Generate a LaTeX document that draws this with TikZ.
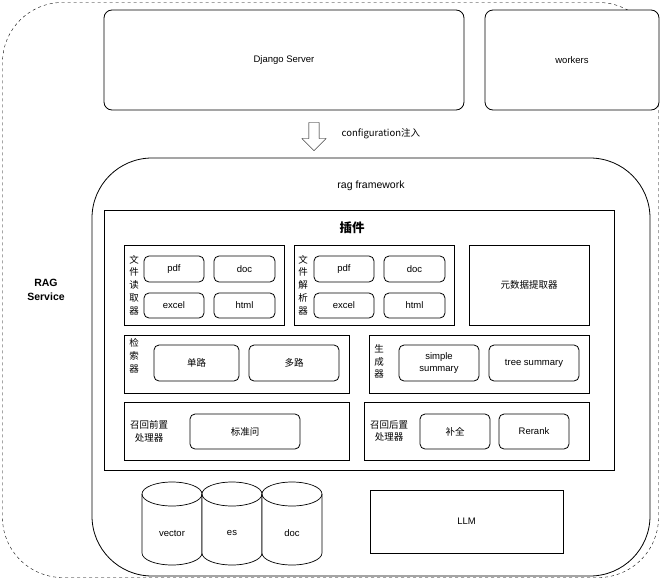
\documentclass[tikz,border=0pt]{standalone}
\usepackage{fontspec}
\setmainfont{Liberation Sans}
\newfontfamily\cjk{Noto Sans CJK SC}
\usetikzlibrary{shapes.arrows}
\tikzset{
  box/.style={draw, thick, fill=white, inner sep=0pt, align=center},
  item/.style={box, rounded corners=5pt},
  lbl/.style={inner sep=0pt, align=center, font=\cjk\fontsize{9.5}{12.8}\selectfont},
  zh/.style={font=\cjk\fontsize{9.5}{11}\selectfont},
}
\begin{document}
\begin{tikzpicture}[x=1pt, y=-1pt, font=\fontsize{9.5}{11.5}\selectfont, line width=0.7pt]
  \useasboundingbox (0,0) rectangle (661,581);

  % Outer service frame
  \node[draw, dashed, thin, rounded corners=60pt, minimum width=656pt, minimum height=575pt] (rag service) at (330.5,290) {};
  \node[font=\bfseries\fontsize{10.5}{13.5}\selectfont, align=center] (rag title) at (46,290) {RAG\\Service};

  % Top row
  \node[box, rounded corners=8pt, minimum width=360pt, minimum height=100pt] (django) at (284,60) {Django Server};
  \node[box, rounded corners=8pt, minimum width=174pt, minimum height=100pt] (workers) at (572,60) {workers};

  % Injection arrow
  \node[single arrow, draw, thin, fill=white, rotate=-90, minimum height=28pt, minimum width=24pt, single arrow head extend=3pt, inner sep=2pt] (inject) at (314,134) {};
  \node[zh, anchor=west] (inject label) at (338,134) {configuration注入};

  % Framework
  \node[box, rounded corners=60pt, minimum width=558pt, minimum height=418pt] (framework) at (371,367) {};
  \node[font=\fontsize{10.5}{12}\selectfont] (framework title) at (371,186) {rag framework};

  % Plugins
  \node[box, minimum width=510pt, minimum height=260pt] (plugins) at (359,340) {};
  \node[font=\cjk\bfseries\fontsize{12.5}{14}\selectfont] (plugins title) at (352,228) {插件};

  % File reader
  \node[box, minimum width=160pt, minimum height=80pt] (reader) at (204,285) {};
  \node[lbl] (reader label) at (134,285) {文\\件\\读\\取\\器};
  \node[item, minimum width=60pt, minimum height=26pt] (reader pdf) at (174,269) {pdf};
  \node[item, minimum width=61pt, minimum height=26pt] (reader doc) at (244.5,269) {doc};
  \node[item, minimum width=60pt, minimum height=25pt] (reader excel) at (174,305.5) {excel};
  \node[item, minimum width=61pt, minimum height=25pt] (reader html) at (244.5,305.5) {html};

  % File parser
  \node[box, minimum width=160pt, minimum height=80pt] (parser) at (374,285) {};
  \node[lbl] (parser label) at (303,285) {文\\件\\解\\析\\器};
  \node[item, minimum width=60pt, minimum height=26pt] (parser pdf) at (344,269) {pdf};
  \node[item, minimum width=61pt, minimum height=26pt] (parser doc) at (414.5,269) {doc};
  \node[item, minimum width=60pt, minimum height=25pt] (parser excel) at (344,305.5) {excel};
  \node[item, minimum width=61pt, minimum height=25pt] (parser html) at (414.5,305.5) {html};

  % Metadata extractor
  \node[box, zh, minimum width=120pt, minimum height=80pt] (meta) at (529,285) {元数据提取器};

  % Retriever
  \node[box, minimum width=225pt, minimum height=58pt] (retriever) at (236.5,364) {};
  \node[lbl, anchor=north] (retriever label) at (134,338) {检\\索\\器};
  \node[item, zh, minimum width=85pt, minimum height=36pt] (single) at (196.5,363) {单路};
  \node[item, zh, minimum width=90pt, minimum height=36pt] (multi) at (294,363) {多路};

  % Generator
  \node[box, minimum width=220pt, minimum height=58pt] (generator) at (479,364) {};
  \node[lbl, anchor=north] (generator label) at (379,344) {生\\成\\器};
  \node[item, minimum width=80pt, minimum height=36pt] (simple) at (439,363) {simple\\summary};
  \node[item, minimum width=90pt, minimum height=36pt] (tree) at (534,363) {tree summary};

  % Pre-recall processor
  \node[box, minimum width=225pt, minimum height=58pt] (pre) at (236.5,431) {};
  \node[lbl] (pre label) at (149,431) {召回前置\\处理器};
  \node[item, zh, minimum width=110pt, minimum height=35pt] (standard) at (245,431.5) {标准问};

  % Post-recall processor
  \node[box, minimum width=225pt, minimum height=58pt] (post) at (476.5,431) {};
  \node[lbl] (post label) at (389,431) {召回后置\\处理器};
  \node[item, zh, minimum width=70pt, minimum height=35pt] (complete) at (455,431.5) {补全};
  \node[item, minimum width=70pt, minimum height=35pt] (rerank) at (534,431.5) {Rerank};

  % Stores
  \foreach \x/\name in {142/vector, 202/es, 262/doc} {
    \draw[fill=white] (\x,494) -- (\x,553) arc[start angle=180, end angle=360, x radius=30pt, y radius=12pt]
      -- (\x+60,494) arc[start angle=0, end angle=180, x radius=30pt, y radius=12pt] -- cycle;
    \draw (\x,494) arc[start angle=180, end angle=360, x radius=30pt, y radius=12pt];
    \node (store \name) at (\x+30,533) {\name};
  }

  % Model
  \node[box, thin, minimum width=193pt, minimum height=63pt] (llm) at (466.5,521.5) {LLM};
\end{tikzpicture}
\end{document}
